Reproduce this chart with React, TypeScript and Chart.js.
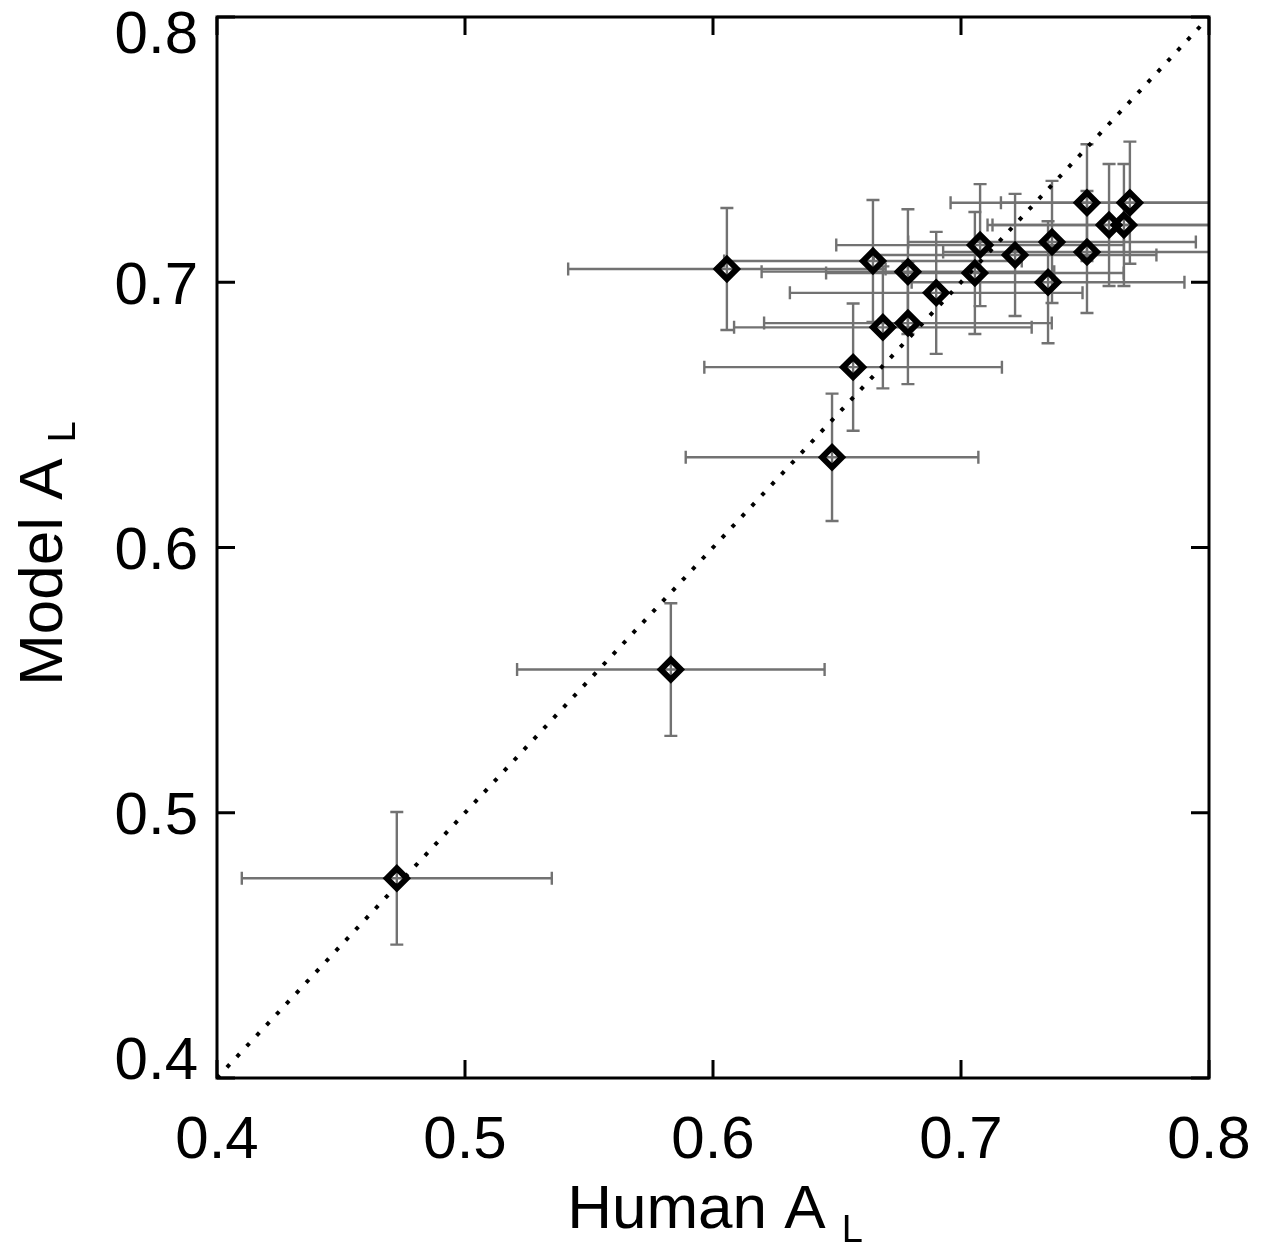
import React, { useEffect, useRef } from "react";
import { Chart, registerables } from "chart.js";

Chart.register(...registerables);

// ---- Data ----
const humanAL = [
  0.4725, 0.583, 0.648, 0.6565, 0.6056, 0.6645, 0.6786, 0.6685, 0.6786, 0.690,
  0.7056, 0.7077, 0.7218, 0.7367, 0.7351, 0.7508, 0.7508, 0.7597, 0.7657, 0.7681,
];
const modelAL = [
  0.4753, 0.554, 0.634, 0.668, 0.705, 0.708, 0.704, 0.683, 0.6846, 0.696,
  0.7035, 0.714, 0.7103, 0.7152, 0.700, 0.730, 0.7114, 0.7216, 0.7216, 0.730,
];
const humanErr = [
  0.0625, 0.062, 0.059, 0.060, 0.064, 0.060, 0.059, 0.060, 0.058, 0.059,
  0.060, 0.058, 0.057, 0.058, 0.055, 0.055, 0.058, 0.047, 0.055, 0.052,
];
const modelErr = [
  0.025, 0.025, 0.024, 0.024, 0.023, 0.023, 0.0235, 0.023, 0.023, 0.023,
  0.023, 0.023, 0.023, 0.023, 0.023, 0.022, 0.023, 0.023, 0.023, 0.023,
];
const identityLine = [0.4, 0.8];
const tickValues = [0.4, 0.5, 0.6, 0.7, 0.8];
const tickLabels = ["0.4", "0.5", "0.6", "0.7", "0.8"];
const xTitle = "Human A";
const yTitle = "Model A";
const titleSub = "L";

const FONT = '"Liberation Sans", Arial, Helvetica, sans-serif';

const errorBarPlugin = {
  id: "errorBars",
  beforeDatasetsDraw(chart: any) {
    const { ctx, chartArea } = chart;
    const xs = chart.scales.x;
    const ys = chart.scales.y;
    ctx.save();
    ctx.beginPath();
    ctx.rect(chartArea.left, chartArea.top, chartArea.right - chartArea.left, chartArea.bottom - chartArea.top);
    ctx.clip();
    ctx.strokeStyle = "#727272";
    ctx.lineWidth = 2.4;
    const cap = 6.5;
    for (let i = 0; i < humanAL.length; i++) {
      const px = xs.getPixelForValue(humanAL[i]);
      const py = ys.getPixelForValue(modelAL[i]);
      const xl = xs.getPixelForValue(humanAL[i] - humanErr[i]);
      const xr = xs.getPixelForValue(humanAL[i] + humanErr[i]);
      const yt = ys.getPixelForValue(modelAL[i] + modelErr[i]);
      const yb = ys.getPixelForValue(modelAL[i] - modelErr[i]);
      ctx.beginPath();
      ctx.moveTo(xl, py); ctx.lineTo(xr, py);
      ctx.moveTo(xl, py - cap); ctx.lineTo(xl, py + cap);
      ctx.moveTo(xr, py - cap); ctx.lineTo(xr, py + cap);
      ctx.moveTo(px, yt); ctx.lineTo(px, yb);
      ctx.moveTo(px - cap, yt); ctx.lineTo(px + cap, yt);
      ctx.moveTo(px - cap, yb); ctx.lineTo(px + cap, yb);
      ctx.stroke();
    }
    ctx.restore();
  },
};

const framePlugin = {
  id: "frame",
  afterDraw(chart: any) {
    const { ctx, chartArea } = chart;
    const xs = chart.scales.x;
    const ys = chart.scales.y;
    const { left, right, top, bottom } = chartArea;
    ctx.save();
    ctx.strokeStyle = "#000";
    ctx.lineWidth = 3;
    ctx.lineCap = "square";
    ctx.strokeRect(left, top, right - left, bottom - top);
    const tl = 18;
    ctx.beginPath();
    tickValues.forEach((v) => {
      const xp = xs.getPixelForValue(v);
      const yp = ys.getPixelForValue(v);
      ctx.moveTo(xp, bottom); ctx.lineTo(xp, bottom - tl);
      ctx.moveTo(xp, top); ctx.lineTo(xp, top + tl);
      ctx.moveTo(left, yp); ctx.lineTo(left + tl, yp);
      ctx.moveTo(right, yp); ctx.lineTo(right - tl, yp);
    });
    ctx.lineCap = "butt";
    ctx.stroke();

    ctx.fillStyle = "#000";
    ctx.font = `60px ${FONT}`;
    ctx.textBaseline = "alphabetic";
    // x tick labels
    ctx.textAlign = "center";
    tickValues.forEach((v, i) => {
      ctx.fillText(tickLabels[i], xs.getPixelForValue(v), bottom + 80);
    });
    // y tick labels
    ctx.textAlign = "right";
    tickValues.forEach((v, i) => {
      const yp = ys.getPixelForValue(v);
      let base = yp + 21.5;
      if (i === tickValues.length - 1) base = yp + 36;
      if (i === 0) base = yp + 1;
      ctx.fillText(tickLabels[i], left - 19, base);
    });

    // axis titles with subscript
    const mainFont = `62px ${FONT}`;
    const subFont = `38px ${FONT}`;
    ctx.textAlign = "left";
    ctx.font = mainFont;
    const wx = ctx.measureText(xTitle).width;
    ctx.font = subFont;
    const ws = ctx.measureText(titleSub).width;
    const gap = 16;
    const total = wx + gap + ws;
    const cx = (left + right) / 2 + 2;
    const sx = cx - total / 2;
    ctx.font = mainFont;
    ctx.fillText(xTitle, sx, 1228);
    ctx.font = subFont;
    ctx.fillText(titleSub, sx + wx + gap, 1242);

    ctx.font = mainFont;
    const wy = ctx.measureText(yTitle).width;
    const totalY = wy + gap + ws;
    const cy = (top + bottom) / 2 + 6;
    ctx.save();
    ctx.translate(62, cy + totalY / 2);
    ctx.rotate(-Math.PI / 2);
    ctx.fillText(yTitle, 0, 0);
    ctx.font = subFont;
    ctx.fillText(titleSub, wy + gap, 13);
    ctx.restore();
    ctx.restore();
  },
};

export default function App() {
  const ref = useRef<HTMLCanvasElement>(null);
  useEffect(() => {
    if (!ref.current) return;
    const chart = new Chart(ref.current, {
      type: "scatter",
      data: {
        datasets: [
          {
            type: "scatter",
            data: humanAL.map((x, i) => ({ x, y: modelAL[i] })),
            pointStyle: "rectRot",
            pointRadius: 10,
            pointHoverRadius: 10,
            borderWidth: 6,
            borderColor: "#000",
            backgroundColor: "rgba(0,0,0,0)",
            order: 0,
          } as any,
          {
            type: "line",
            data: identityLine.map((v) => ({ x: v, y: v })),
            borderColor: "#000",
            borderWidth: 4,
            borderDash: [4, 10.5],
            borderCapStyle: "butt",
            pointRadius: 0,
            fill: false,
            order: 1,
          } as any,
        ],
      },
      options: {
        responsive: false,
        animation: false,
        devicePixelRatio: 1,
        events: [],
        layout: { padding: { left: 217, top: 17, right: 1274 - 1209, bottom: 1247 - 1078 } },
        scales: {
          x: { type: "linear", min: 0.4, max: 0.8, display: false },
          y: { type: "linear", min: 0.4, max: 0.8, display: false },
        },
        plugins: { legend: { display: false }, tooltip: { enabled: false } },
      },
      plugins: [errorBarPlugin, framePlugin],
    });
    return () => chart.destroy();
  }, []);
  return (
    <div style={{ position: "absolute", left: 0, top: 0, width: 1274, height: 1247, background: "#fff" }}>
      <canvas ref={ref} width={1274} height={1247} style={{ display: "block" }} />
    </div>
  );
}
